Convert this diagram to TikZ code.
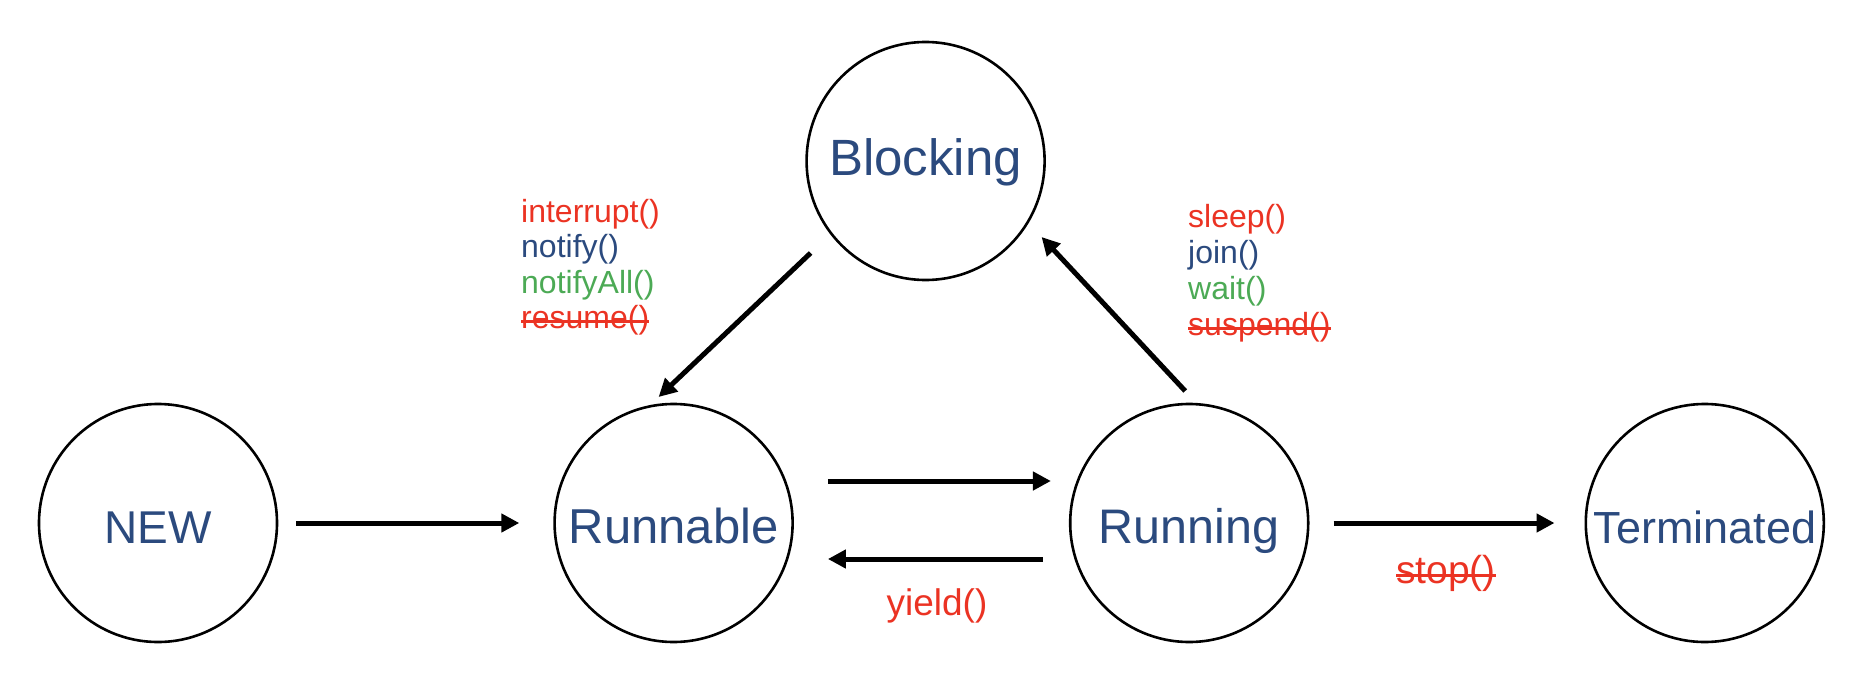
\documentclass[tikz,border=0pt]{standalone}
\usepackage{fontspec}
\setmainfont{Liberation Sans}
\usetikzlibrary{arrows.meta,positioning}
\definecolor{StateBlue}{HTML}{2B4A7E}
\definecolor{CallRed}{HTML}{EB3323}
\definecolor{CallGreen}{HTML}{4CAA55}
\newcommand{\fsz}[1]{\fontsize{#1}{#1}\selectfont}
\newsavebox{\strikebox}
\newcommand{\strikeout}[1]{\sbox{\strikebox}{#1}\rlap{\rule[.16em]{\wd\strikebox}{3pt}}\usebox{\strikebox}}

\begin{document}
\begin{tikzpicture}[node distance=275pt,
  tstate/.style={draw, circle, line width=2.6pt, minimum size=238pt, inner sep=0pt,
    text=StateBlue, text height=40pt, text depth=0pt},
  flow/.style={-{Triangle[length=18pt,width=18pt]}, line width=5pt},
  call/.style={anchor=base west, inner sep=0pt, font=\fsz{32}}]
  \useasboundingbox (0,0) rectangle (1862pt,-682pt);
  % states
  \node[tstate, font=\fsz{46}] (new) at (158pt,-523pt) {NEW};
  \node[tstate, font=\fsz{49}, right=of new] (runnable) {Runnable};
  \node[tstate, font=\fsz{48.5}, right=of runnable] (running) {Running};
  \node[tstate, font=\fsz{45}, right=of running] (terminated) {Terminated};
  \node[tstate, font=\fsz{51}, text depth=12pt] (blocking) at ([shift={(252pt,362pt)}]runnable) {Blocking};
  % transitions
  \draw[flow, shorten <=18pt, shorten >=34pt] (new) -- (runnable);
  \draw[flow] ([shift={(34pt,42pt)}]runnable.east) -- ([shift={(-18pt,42pt)}]running.west);
  \draw[flow] ([shift={(-26pt,-36pt)}]running.west) -- ([shift={(34pt,-36pt)}]runnable.east);
  \draw[flow, shorten <=24pt, shorten >=30pt] (running) -- (terminated);
  \draw[flow] ([shift={(-115pt,-92pt)}]blocking.center) -- ([shift={(-15pt,126pt)}]runnable.center);
  \draw[flow] ([shift={(-4pt,132pt)}]running.center) -- ([shift={(116pt,-76pt)}]blocking.center);
  % method calls
  \node[call, text=CallRed] (interrupt) at (521pt,-222pt) {interrupt()};
  \node[call, text=StateBlue] (notify) at ([yshift=-35.5pt]interrupt.base west) {notify()};
  \node[call, text=CallGreen] (notifyall) at ([yshift=-35.5pt]notify.base west) {notifyAll()};
  \node[call, text=CallRed] (resume) at ([yshift=-35.5pt]notifyall.base west) {\strikeout{resume()}};
  \node[call, text=CallRed] (sleep) at (1188pt,-227pt) {sleep()};
  \node[call, text=StateBlue] (join) at ([yshift=-36pt]sleep.base west) {join()};
  \node[call, text=CallGreen] (wait) at ([yshift=-36pt]join.base west) {wait()};
  \node[call, text=CallRed] (suspend) at ([yshift=-36pt]wait.base west) {\strikeout{suspend()}};
  \node[call, anchor=base, text=CallRed, font=\fsz{37}] (yield) at (937pt,-615pt) {yield()};
  \node[call, anchor=base, text=CallRed, font=\fsz{39}] (stop) at (1446pt,-583pt) {\strikeout{stop()}};
\end{tikzpicture}
\end{document}
